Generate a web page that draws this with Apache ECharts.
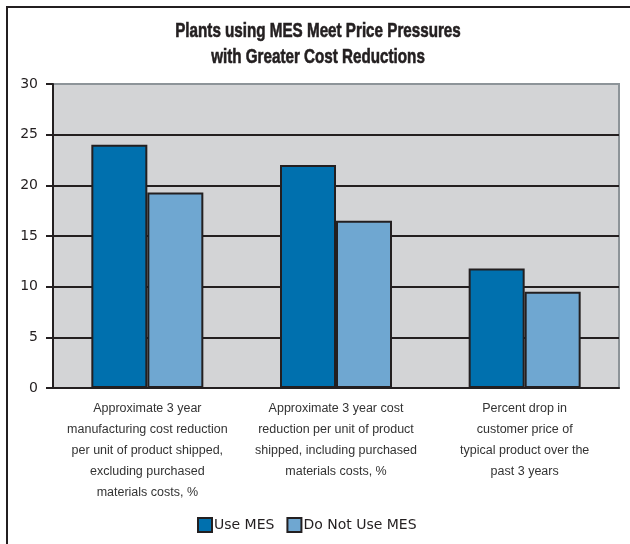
<!DOCTYPE html>
<html>
  <head>
    <meta charset="utf-8" />
    <title>MES cost reductions</title>
    <style>
      body { margin: 0; background: #fff; }
    </style>
  </head>
  <body>
    <div id="chart" style="width: 630px; height: 544px"></div>

    <script src="https://cdn.jsdelivr.net/npm/echarts@6/dist/echarts.min.js"></script>
    <script>
      const titleText = 'Plants using MES Meet Price Pressures\nwith Greater Cost Reductions';
      const categories = [
        'Approximate 3 year\nmanufacturing cost reduction\nper unit of product shipped,\nexcluding purchased\nmaterials costs, %',
        'Approximate 3 year cost\nreduction per unit of product\nshipped, including purchased\nmaterials costs, %',
        'Percent drop in\ncustomer price of\ntypical product over the\npast 3 years',
      ];
      const useMes = [24, 22, 11.8];
      const noMes = [19.3, 16.5, 9.5];
      const seriesNames = ['Use MES', 'Do Not Use MES'];

      const ink = '#231f20';
      const wide = '"DejaVu Sans", sans-serif';

      let chart = echarts.init(document.getElementById('chart'), null, {
        width: 630,
        height: 544,
      });

      chart.setOption({
        animation: false,
        graphic: [
          {
            type: 'rect',
            shape: { x: 7, y: 7, width: 640, height: 560 },
            style: { fill: null, stroke: ink, lineWidth: 2 },
            silent: true,
          },
          {
            // condensed bold title (no narrow font installed, so squeeze it)
            type: 'text',
            x: 318,
            y: 18,
            scaleX: 0.76,
            silent: true,
            style: {
              text: titleText,
              font: 'bold 20px "Liberation Sans", Arial, sans-serif',
              lineHeight: 26,
              fill: ink,
              stroke: ink,
              lineWidth: 0.6,
              textAlign: 'center',
              textVerticalAlign: 'top',
            },
          },
        ],
        legend: {
          left: 197,
          top: 517,
          padding: 0,
          itemWidth: 14,
          itemHeight: 14,
          itemGap: 12,
          icon: 'rect',
          data: seriesNames,
          textStyle: {
            fontFamily: wide,
            fontSize: 14,
            color: ink,
            padding: [0, 0, 0, -3],
          },
        },
        grid: {
          left: 53,
          right: 11,
          top: 84,
          bottom: 156,
          show: true,
          backgroundColor: '#d3d4d6',
          borderColor: '#8d9499',
          borderWidth: 2,
        },
        xAxis: {
          type: 'category',
          data: categories,
          axisLine: { lineStyle: { color: ink, width: 2 } },
          axisTick: { length: 7, lineStyle: { color: ink, width: 2 } },
          axisLabel: {
            interval: 0,
            margin: 10,
            fontFamily: 'Liberation Sans, Arial, sans-serif',
            fontSize: 12.5,
            lineHeight: 21,
            color: '#333',
          },
        },
        yAxis: {
          type: 'value',
          min: 0,
          max: 30,
          interval: 5,
          axisLine: { show: true, lineStyle: { color: ink, width: 2 } },
          axisTick: { show: true, length: 7, lineStyle: { color: ink, width: 2 } },
          axisLabel: {
            margin: 15,
            fontFamily: wide,
            fontSize: 14,
            color: ink,
          },
          splitLine: {
            show: true,
            showMaxLine: false,
            lineStyle: { color: ink, width: 2 },
          },
        },
        series: [
          {
            name: seriesNames[0],
            type: 'bar',
            data: useMes,
            barWidth: 56,
            barGap: '0%',
            itemStyle: { color: '#0070ae', borderColor: ink, borderWidth: 2 },
          },
          {
            name: seriesNames[1],
            type: 'bar',
            data: noMes,
            barWidth: 56,
            itemStyle: { color: '#6fa7d1', borderColor: ink, borderWidth: 2 },
          },
        ],
      });
    </script>
  </body>
</html>
